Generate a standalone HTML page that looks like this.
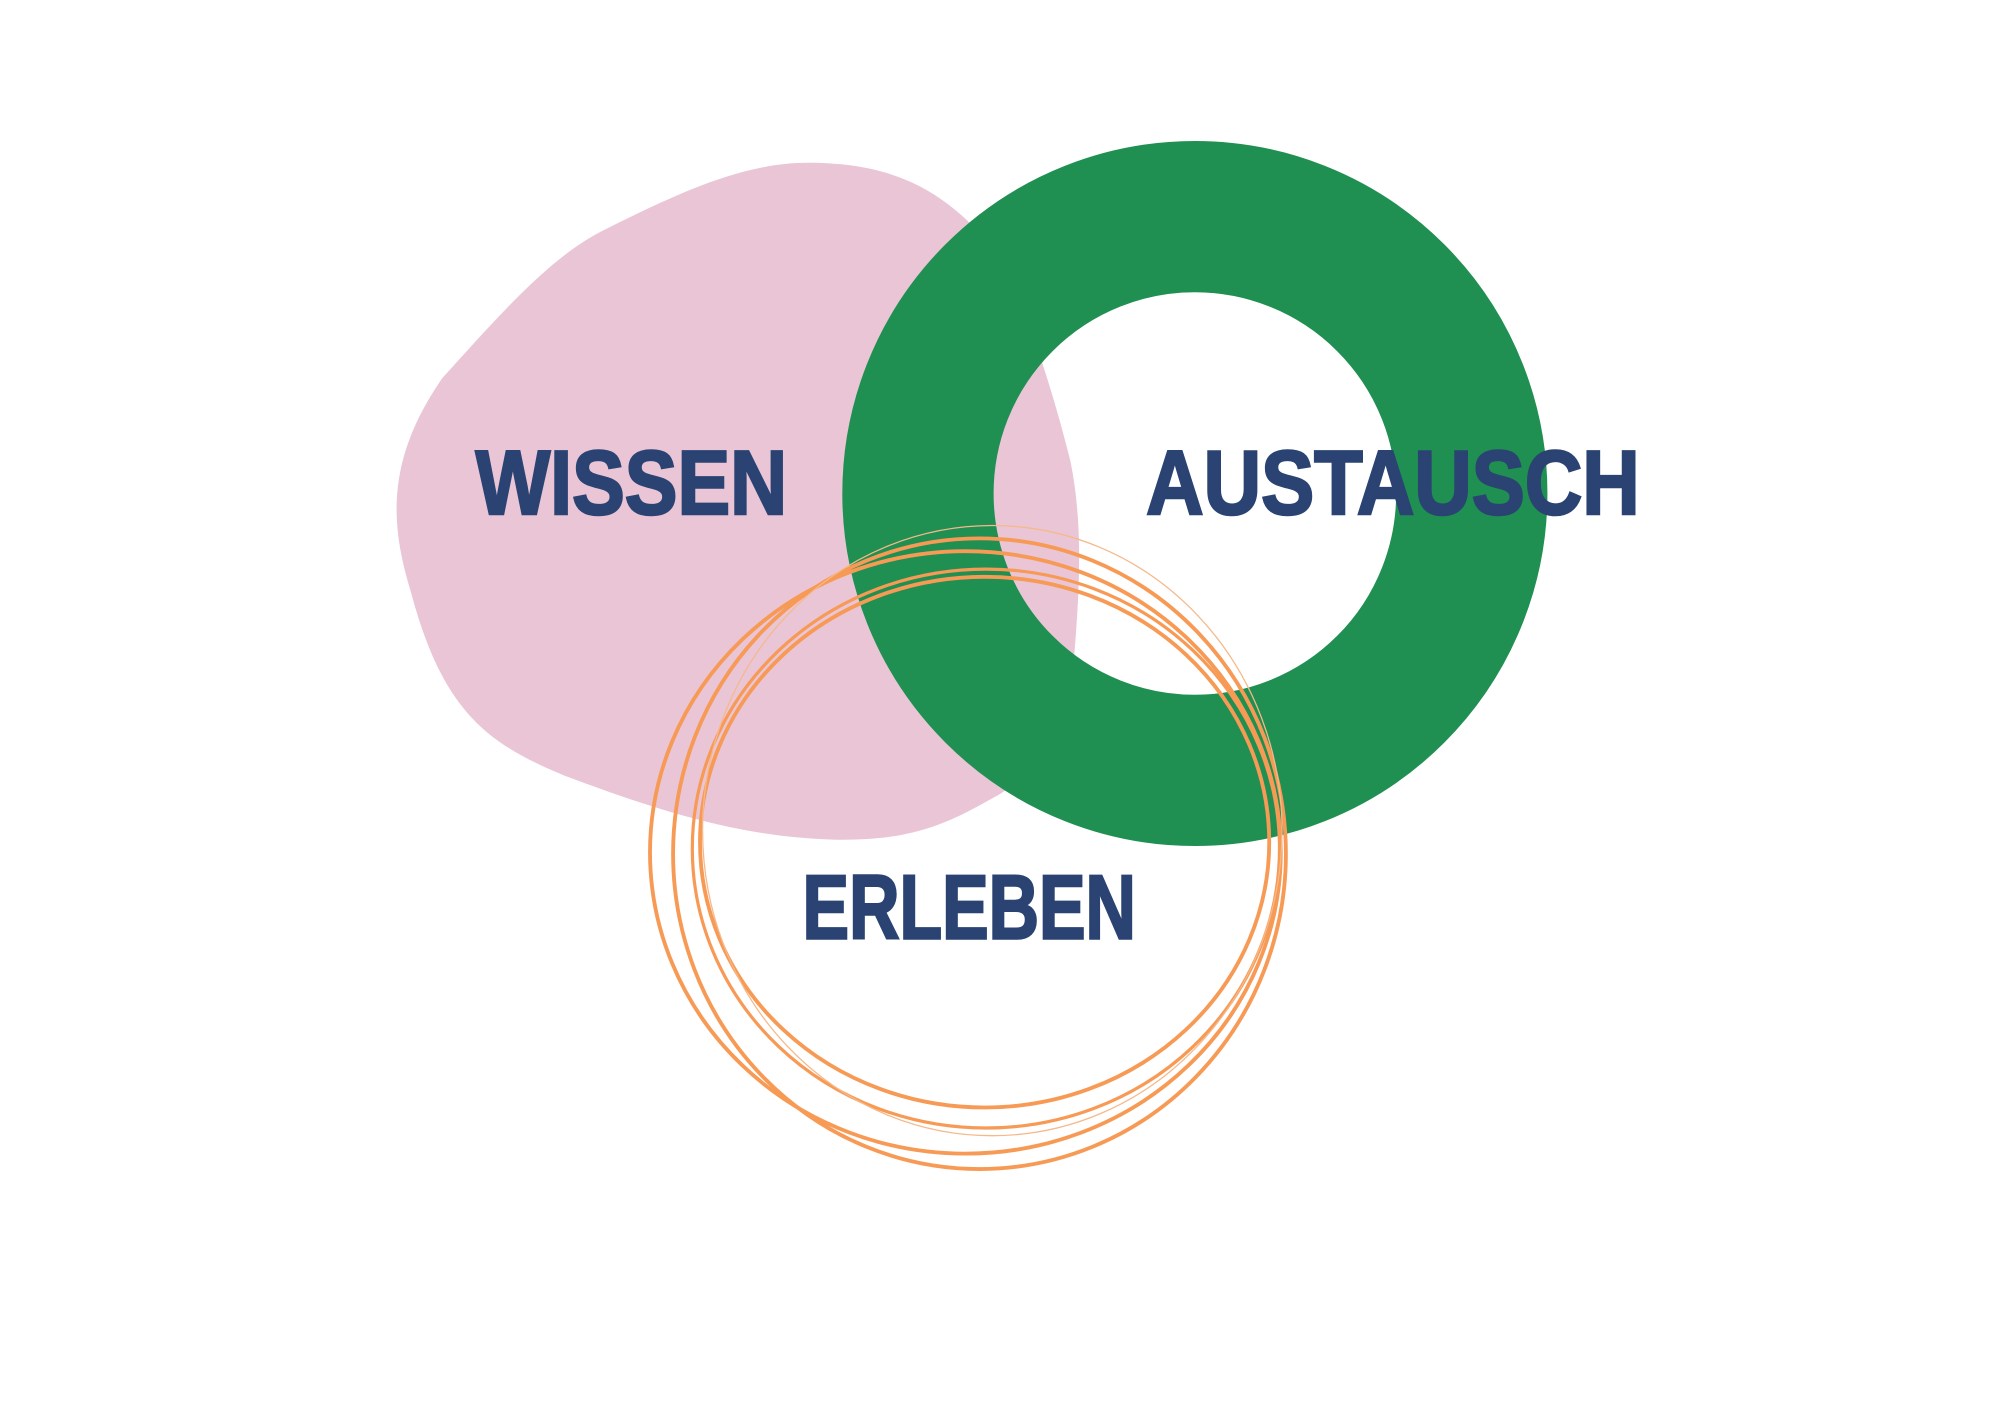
<!DOCTYPE html>
<html><head><meta charset="utf-8"><style>
html,body{margin:0;padding:0;background:#fff;}
svg{display:block;}
text{font-family:"Liberation Sans",sans-serif;font-weight:bold;fill:#2a4372;stroke:#2a4372;stroke-width:2;}
</style></head><body>
<svg width="2000" height="1410" viewBox="0 0 1560 1100" preserveAspectRatio="none" xmlns="http://www.w3.org/2000/svg">
<rect width="1560" height="1100" fill="#fff"/>
<path d="M630,127 C700,127 740,150 780,200 C800,240 820,300 835,360 C845,410 842,460 838,510 C830,580 800,610 770,625 C730,648 700,656 650,655 C580,653 520,635 440,605 C380,580 345,555 320,460 C305,410 300,360 345,295 C390,245 430,200 470,180 C530,150 580,127 630,127 Z" fill="#e9c5d6"/>
<circle cx="932" cy="385" r="216" fill="none" stroke="#1f8f52" stroke-width="118"/>
<g fill="none" stroke="#f79a55">
<ellipse cx="753" cy="665" rx="246" ry="235" stroke-width="3"/>
<ellipse cx="764" cy="666" rx="239" ry="246" stroke-width="3"/>
<ellipse cx="768" cy="657" rx="222" ry="207" stroke-width="3"/>
<ellipse cx="769" cy="662" rx="229" ry="218" stroke-width="2.5"/>
<ellipse cx="774" cy="648" rx="226" ry="238" stroke-width="1" stroke="#f5b98a"/>
</g>
<text x="371" y="401" font-size="71" textLength="243" lengthAdjust="spacingAndGlyphs">WISSEN</text>
<text x="894" y="401" font-size="71" textLength="385" lengthAdjust="spacingAndGlyphs">AUSTAUSCH</text>
<text x="626" y="732" font-size="71" textLength="260" lengthAdjust="spacingAndGlyphs">ERLEBEN</text>
</svg>
</body></html>
